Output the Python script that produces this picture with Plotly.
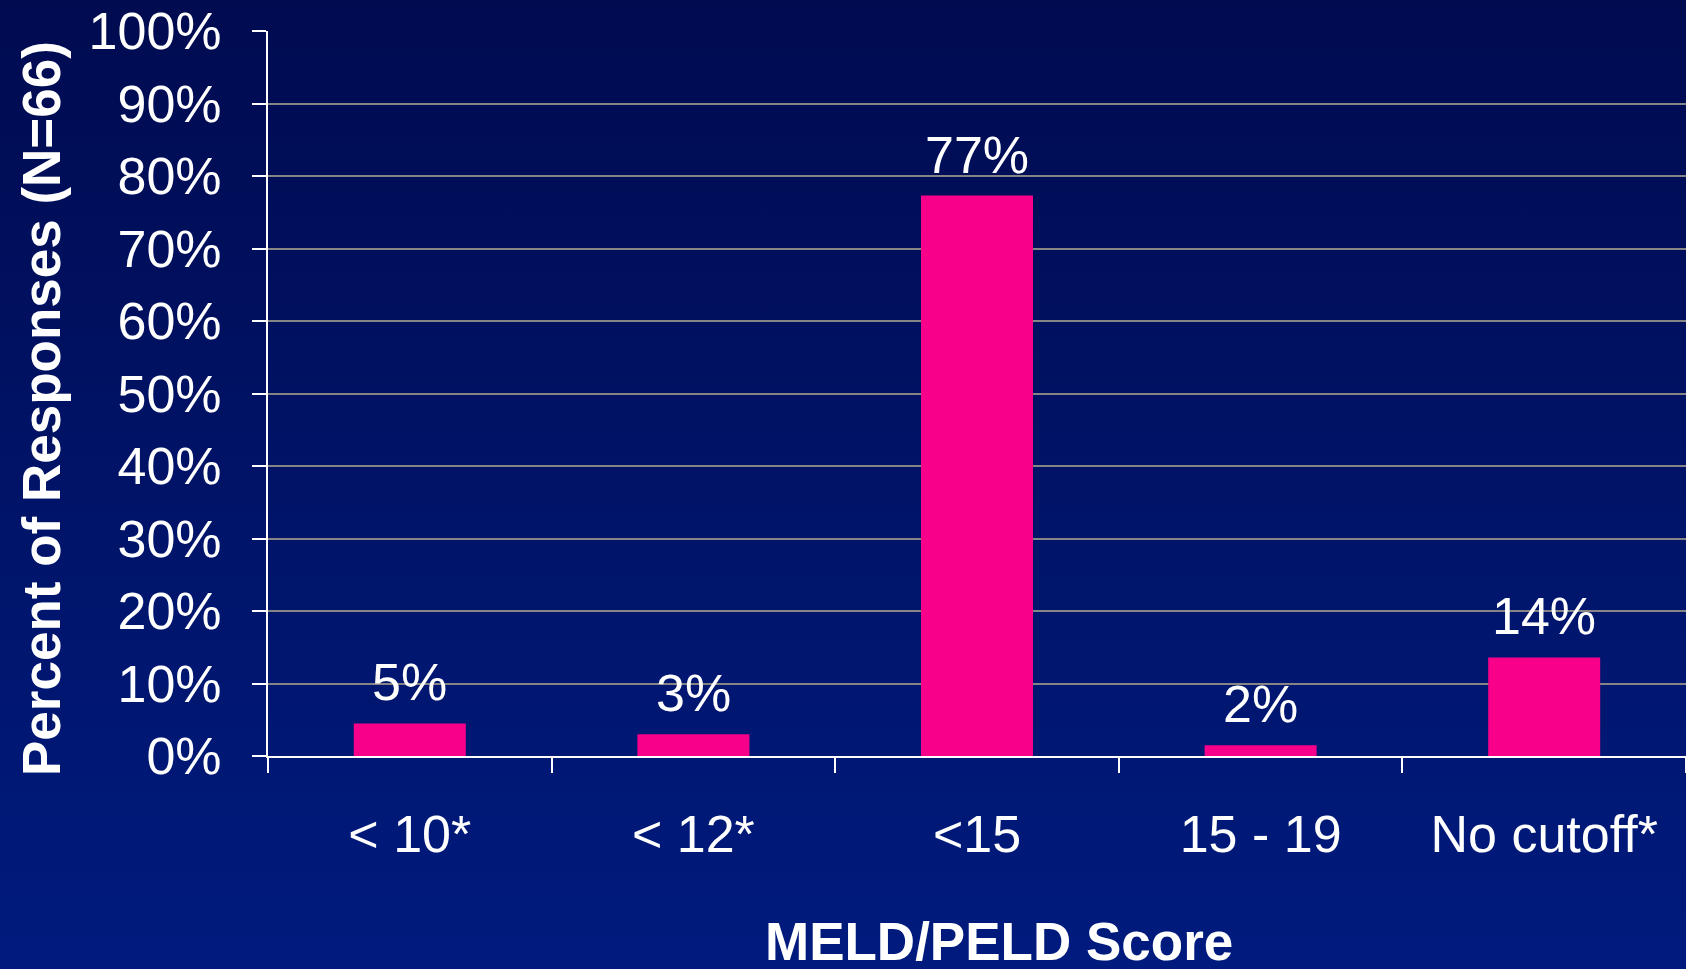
import base64
import plotly.graph_objects as go

categories = ["< 10*", "< 12*", "<15", "15 - 19", "No cutoff*"]
percent = [4.5, 3.0, 77.3, 1.5, 13.6]
labels = ["5%", "3%", "77%", "2%", "14%"]
y_ticks = [0, 10, 20, 30, 40, 50, 60, 70, 80, 90, 100]
y_ticktext = ["%d%%" % v for v in y_ticks]

FONT = "Liberation Sans, Arial, sans-serif"
W, H = 1686, 969
ML, MR, MT, MB = 268, 0, 31, 213
PW, PH = W - ML - MR, H - MT - MB

# vertical navy gradient for the slide background
svg = (
    '<svg xmlns="http://www.w3.org/2000/svg" width="100" height="100" preserveAspectRatio="none">'
    '<defs><linearGradient id="g" x1="0" y1="0" x2="0" y2="1">'
    '<stop offset="0" stop-color="#000B50"/><stop offset="1" stop-color="#001B7E"/>'
    '</linearGradient></defs><rect width="100" height="100" fill="url(#g)"/></svg>'
)
bg_src = "data:image/svg+xml;base64," + base64.b64encode(svg.encode()).decode()

fig = go.Figure()
fig.add_trace(go.Bar(
    x=categories, y=percent,
    marker=dict(color="#F8008A", line=dict(width=0)),
    hoverinfo="skip",
))

for c, v, t in zip(categories, percent, labels):
    fig.add_annotation(x=c, y=v, text=t, showarrow=False, yanchor="bottom",
                       yshift=10, font=dict(family=FONT, size=52, color="white"))

fig.add_annotation(text="<b>Percent of Responses (N=66)</b>", xref="paper", yref="paper",
                   x=(41 - ML) / PW, y=(H - MB - 409) / PH, textangle=-90,
                   showarrow=False, xanchor="center", yanchor="middle",
                   font=dict(family=FONT, size=53, color="white"))
fig.add_annotation(text="<b>MELD/PELD Score</b>", xref="paper", yref="paper",
                   x=(999 - ML) / PW, y=(H - MB - 942) / PH,
                   showarrow=False, xanchor="center", yanchor="middle",
                   font=dict(family=FONT, size=53, color="white"))

fig.add_layout_image(dict(
    source=bg_src, xref="paper", yref="paper",
    x=-ML / PW, y=1 + MT / PH, sizex=W / PW, sizey=H / PH,
    xanchor="left", yanchor="top", sizing="stretch", layer="below",
))

fig.update_layout(
    width=W, height=H,
    margin=dict(l=ML, r=MR, t=MT, b=MB, pad=0),
    paper_bgcolor="#00126A",
    plot_bgcolor="rgba(0,0,0,0)",
    bargap=0.605,
    showlegend=False,
    font=dict(family=FONT, size=52, color="white"),
)
fig.update_xaxes(
    type="category", tickson="boundaries",
    ticks="outside", ticklen=15, tickwidth=2, tickcolor="white",
    showline=True, linecolor="white", linewidth=2,
    showgrid=False, ticklabelstandoff=32,
    tickfont=dict(family=FONT, size=52, color="white"),
)
fig.update_yaxes(
    range=[0, 100], tickvals=y_ticks, ticktext=y_ticktext,
    ticks="outside", ticklen=14, tickwidth=2, tickcolor="white",
    showline=True, linecolor="white", linewidth=2,
    showgrid=True, gridcolor="#858585", gridwidth=1.5,
    zeroline=False, ticklabelstandoff=20,
    tickfont=dict(family=FONT, size=52, color="white"),
)

fig.write_html("out.html", config={"displayModeBar": False},
               post_script="document.body.style.margin='0';document.body.style.overflow='hidden';")
